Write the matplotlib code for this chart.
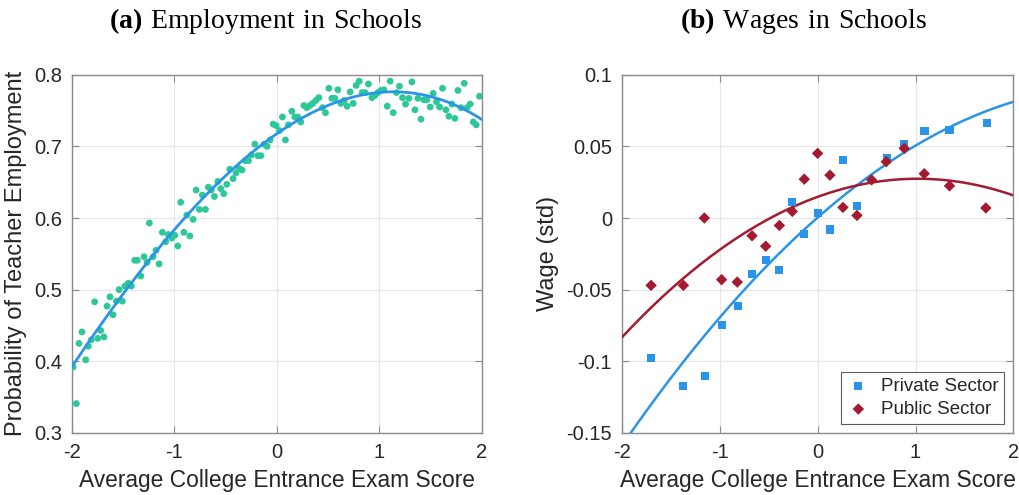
import numpy as np
import matplotlib
matplotlib.use("Agg")
import matplotlib.pyplot as plt
from matplotlib.ticker import FuncFormatter

# panel (a): binned employment probability by exam score
emp_x = [-1.987, -1.955, -1.929, -1.900, -1.863, -1.838, -1.809, -1.776, -1.746, -1.717,
         -1.685, -1.655, -1.626, -1.597, -1.564, -1.538, -1.506, -1.480, -1.447, -1.418,
         -1.385, -1.360, -1.326, -1.294, -1.265, -1.242, -1.206, -1.177, -1.147, -1.115,
         -1.082, -1.057, -1.023, -0.994, -0.965, -0.936, -0.905, -0.876, -0.847, -0.815,
         -0.786, -0.754, -0.725, -0.695, -0.666, -0.637, -0.607, -0.574, -0.545, -0.516,
         -0.486, -0.457, -0.425, -0.396, -0.366, -0.337, -0.305, -0.275, -0.246, -0.213,
         -0.184, -0.154, -0.122, -0.093, -0.063, -0.034, -0.005, 0.028, 0.057, 0.086,
         0.115, 0.148, 0.178, 0.207, 0.236, 0.266, 0.295, 0.324, 0.353, 0.383,
         0.412, 0.447, 0.477, 0.510, 0.539, 0.568, 0.598, 0.627, 0.659, 0.688,
         0.718, 0.747, 0.776, 0.806, 0.835, 0.864, 0.896, 0.930, 0.959, 0.988,
         1.017, 1.047, 1.079, 1.108, 1.138, 1.170, 1.199, 1.229, 1.258, 1.291,
         1.320, 1.350, 1.379, 1.408, 1.437, 1.467, 1.499, 1.528, 1.560, 1.590,
         1.619, 1.652, 1.681, 1.711, 1.740, 1.770, 1.799, 1.831, 1.860, 1.890,
         1.919, 1.948, 1.980]
emp_y = [0.392, 0.341, 0.425, 0.441, 0.402, 0.421, 0.430, 0.483, 0.432, 0.443,
         0.434, 0.477, 0.490, 0.465, 0.484, 0.500, 0.484, 0.505, 0.509, 0.505,
         0.541, 0.541, 0.519, 0.546, 0.538, 0.593, 0.546, 0.555, 0.536, 0.580,
         0.567, 0.577, 0.572, 0.576, 0.561, 0.622, 0.580, 0.604, 0.575, 0.598,
         0.639, 0.612, 0.632, 0.612, 0.643, 0.639, 0.630, 0.651, 0.641, 0.634,
         0.647, 0.668, 0.655, 0.663, 0.669, 0.667, 0.680, 0.680, 0.688, 0.703,
         0.687, 0.687, 0.703, 0.700, 0.709, 0.731, 0.729, 0.722, 0.741, 0.709,
         0.730, 0.749, 0.741, 0.741, 0.734, 0.757, 0.754, 0.757, 0.760, 0.764,
         0.768, 0.754, 0.747, 0.781, 0.767, 0.767, 0.779, 0.760, 0.764, 0.756,
         0.776, 0.760, 0.785, 0.791, 0.775, 0.775, 0.787, 0.768, 0.771, 0.775,
         0.778, 0.779, 0.756, 0.791, 0.747, 0.775, 0.784, 0.768, 0.759, 0.767,
         0.790, 0.751, 0.767, 0.738, 0.765, 0.765, 0.755, 0.774, 0.762, 0.755,
         0.781, 0.751, 0.742, 0.759, 0.739, 0.778, 0.754, 0.788, 0.754, 0.759,
         0.734, 0.730, 0.770]

# panel (b): wages by sector
priv_x = [-1.697, -1.370, -1.153, -0.980, -0.816, -0.669, -0.530, -0.390, -0.258, -0.136,
          0.000, 0.126, 0.259, 0.402, 0.711, 0.885, 1.092, 1.347, 1.732]
priv_y = [-0.0977, -0.1170, -0.1100, -0.0748, -0.0615, -0.0393, -0.0292, -0.0360, 0.0114, -0.0113,
          0.0034, -0.0080, 0.0402, 0.0084, 0.0420, 0.0514, 0.0607, 0.0612, 0.0661]
pub_x = [-1.700, -1.370, -1.156, -0.980, -0.820, -0.669, -0.530, -0.390, -0.258, -0.136,
         0.000, 0.126, 0.259, 0.402, 0.551, 0.701, 0.885, 1.089, 1.347, 1.718]
pub_y = [-0.0470, -0.0470, 0.0000, -0.0430, -0.0447, -0.0124, -0.0197, -0.0052, 0.0046, 0.0271,
         0.0451, 0.0299, 0.0074, 0.0018, 0.0266, 0.0393, 0.0486, 0.0309, 0.0224, 0.0070]

GREEN = "#2ec79a"
BLUE = "#2a95e8"
RED = "#a31a31"
TXT = "#262626"

plt.rcParams["font.family"] = ["Liberation Sans", "DejaVu Sans"]
plt.rcParams["axes.unicode_minus"] = False
plt.rcParams["mathtext.fontset"] = "custom"
plt.rcParams["mathtext.rm"] = "Liberation Serif"
plt.rcParams["mathtext.bf"] = "Liberation Serif:bold"


def style_axes(ax):
    for s in ax.spines.values():
        s.set_color("#8a8a8a")
        s.set_linewidth(1.0)
    ax.tick_params(direction="in", length=5, width=0.8, color="#8a8a8a",
                   top=True, right=True, labelsize=14.5, labelcolor=TXT, pad=7)
    ax.grid(True, color="#e6e6e6", linewidth=0.8)
    ax.set_axisbelow(True)
    ax.set_xlim(-2, 2)
    ax.set_xticks([-2, -1, 0, 1, 2])
    ax.set_xlabel("Average College Entrance Exam Score", fontsize=16.4, color=TXT, labelpad=5)


fig = plt.figure(figsize=(10.2, 4.95), dpi=100)
ax1 = fig.add_axes([0.0703, 0.1253, 0.4018, 0.7238])
ax2 = fig.add_axes([0.6095, 0.1253, 0.3841, 0.7238])

xs = np.linspace(-2, 2, 200)

# left panel
style_axes(ax1)
ax1.scatter(emp_x, emp_y, s=24, color=GREEN, edgecolors="none", zorder=3)
c1 = np.polyfit(emp_x, emp_y, 3)
ax1.plot(xs, np.polyval(c1, xs), color=BLUE, lw=2, zorder=4)
ax1.set_ylim(0.3, 0.8)
ax1.set_yticks([0.3, 0.4, 0.5, 0.6, 0.7, 0.8])
ax1.yaxis.set_major_formatter(FuncFormatter(lambda v, p: f"{v:g}"))
ax1.set_ylabel("Probability of Teacher Employment", fontsize=17, color=TXT, labelpad=5)

# right panel
style_axes(ax2)
c_priv = np.polyfit(priv_x, priv_y, 2)
c_pub = np.polyfit(pub_x, pub_y, 2)
ax2.plot(xs, np.polyval(c_priv, xs), color=BLUE, lw=1.8, zorder=3)
ax2.plot(xs, np.polyval(c_pub, xs), color=RED, lw=1.8, zorder=3)
ax2.scatter(priv_x, priv_y, marker="s", s=34, color=BLUE, edgecolors="none",
            zorder=4, label="Private Sector")
ax2.scatter(pub_x, pub_y, marker="D", s=34, color=RED, edgecolors="none",
            zorder=4, label="Public Sector")
ax2.set_ylim(-0.15, 0.1)
ax2.set_yticks([-0.15, -0.1, -0.05, 0, 0.05, 0.1])
ax2.yaxis.set_major_formatter(FuncFormatter(lambda v, p: f"{v:g}"))
ax2.set_ylabel("Wage (std)", fontsize=17, color=TXT, labelpad=5)
leg = ax2.legend(loc="lower right", fontsize=13.5, frameon=True, fancybox=False,
                 handlelength=1.2, handletextpad=0.6, borderpad=0.3, labelspacing=0.3,
                 borderaxespad=0.5)
leg.get_frame().set_edgecolor("#333333")
leg.get_frame().set_linewidth(0.8)
for t in leg.get_texts():
    t.set_color(TXT)

# panel titles
for xc, tag, name in [(266, "(a)", "Employment in Schools"), (803, "(b)", "Wages in Schools")]:
    fig.text(xc / 1020, 1 - 21 / 495,
             r"$\mathbf{" + tag + r"}\ \mathrm{" + name.replace(" ", r"\ ") + "}$",
             ha="center", va="center", fontsize=20)

fig.savefig("out.png", dpi=100)
